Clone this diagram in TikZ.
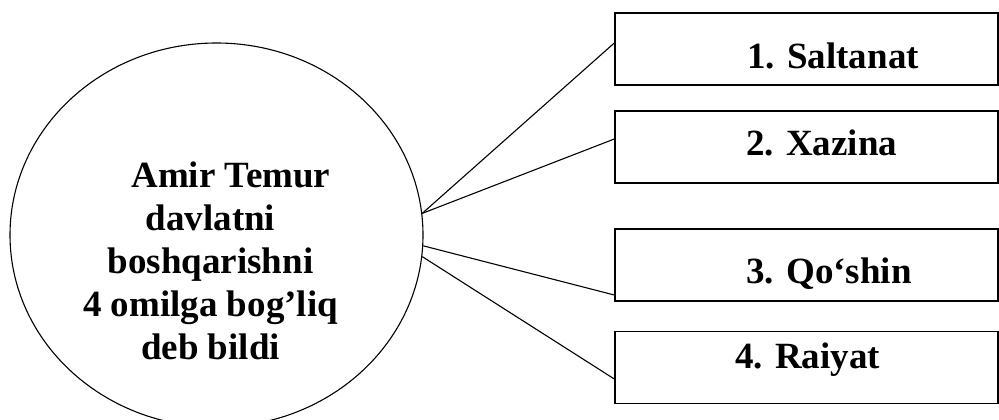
\documentclass[tikz,border=0pt]{standalone}
\usepackage{fontspec}
\setmainfont{Liberation Serif}
\usepackage{tikz}
\usetikzlibrary{positioning}
\usetikzlibrary{shapes.geometric}

\begin{document}
\begin{tikzpicture}[x=1pt,y=-1pt,
  quti/.style={draw,line width=1.4pt,minimum width=383pt,minimum height=72pt,inner sep=0pt},
  yozuv/.style={font=\bfseries\fontsize{37}{43}\selectfont,inner sep=0pt,anchor=base west},
  chiziq/.style={line width=1.1pt}]
\useasboundingbox (0,0) rectangle (999,420);

\node[draw,ellipse,line width=1.1pt,minimum width=413pt,minimum height=384pt,inner sep=0pt] (amir) at (216.5,235) {};
\node[align=center,inner sep=0pt,font=\bfseries\fontsize{37}{43}\selectfont] (matn) at (210.5,261)
  {\hspace*{1.1em}Amir Temur\\davlatni\\boshqarishni\\4 omilga bog’liq\\deb bildi};

\node[quti] (s1) at (806.5,49)  {};
\node[quti] (s2) at (806.5,147) {};
\node[quti] (s3) at (806.5,265) {};
\node[quti] (s4) at (806.5,367.5) {};

\node[yozuv] (t1) at (747,69)  {1. Saltanat};
\node[yozuv] (t2) at (746,155) {2. Xazina};
\node[yozuv] (t3) at (746,283) {3. Qo‘shin};
\node[yozuv] (t4) at (735,368) {4. Raiyat};

\draw[chiziq] (amir.6.7)  -- ([yshift=6pt]s1.west);
\draw[chiziq] (amir.6.7)  -- ([yshift=8pt]s2.west);
\draw[chiziq] (amir.-3.6) -- ([yshift=-30pt]s3.west);
\draw[chiziq] (amir.-6.7) -- ([yshift=-11.5pt]s4.west);

\end{tikzpicture}
\end{document}
